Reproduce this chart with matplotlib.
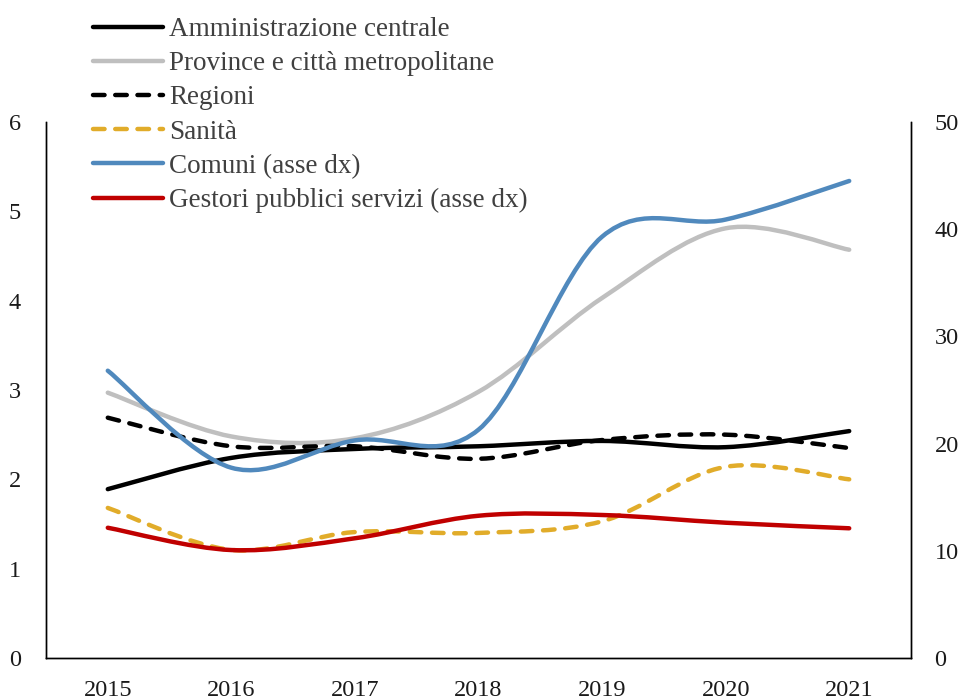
import matplotlib
matplotlib.use("Agg")
import matplotlib.pyplot as plt
from matplotlib.path import Path
from matplotlib.patches import PathPatch
from matplotlib.lines import Line2D
import numpy as np

years = ["2015", "2016", "2017", "2018", "2019", "2020", "2021"]
amm_centrale = [1.89, 2.24, 2.34, 2.37, 2.43, 2.36, 2.54]
province = [2.97, 2.48, 2.46, 2.98, 4.03, 4.81, 4.57]
regioni = [2.69, 2.37, 2.37, 2.23, 2.44, 2.50, 2.35]
sanita = [1.68, 1.21, 1.41, 1.40, 1.53, 2.14, 2.00]
comuni = [26.8, 17.75, 20.3, 21.3, 39.3, 40.9, 44.5]
gestori = [12.15, 10.07, 11.17, 13.27, 13.34, 12.62, 12.1]

labels = ["Amministrazione centrale", "Province e città metropolitane", "Regioni",
          "Sanità", "Comuni (asse dx)", "Gestori pubblici servizi (asse dx)"]

plt.rcParams['font.family'] = ['Liberation Serif', 'DejaVu Serif']

fig = plt.figure(figsize=(9.63, 7.0), dpi=100)
ax = fig.add_axes([46/963, 42/700, 865/963, 536/700])
ax2 = ax.twinx()

def smooth_path(x, y):
    x = np.asarray(x, float); y = np.asarray(y, float)
    n = len(x)
    verts = [(x[0], y[0])]
    codes = [Path.MOVETO]
    for i in range(n - 1):
        p0 = np.array([x[max(i-1, 0)], y[max(i-1, 0)]])
        p1 = np.array([x[i], y[i]])
        p2 = np.array([x[i+1], y[i+1]])
        p3 = np.array([x[min(i+2, n-1)], y[min(i+2, n-1)]])
        c1 = p1 + (p2 - p0) / 6.0
        c2 = p2 - (p3 - p1) / 6.0
        verts += [tuple(c1), tuple(c2), tuple(p2)]
        codes += [Path.CURVE4] * 3
    return Path(verts, codes)

xs = np.arange(len(years))
lw = 3.2
series = [
    (ax, amm_centrale, "#000000", "solid"),
    (ax, province, "#BFBFBF", "solid"),
    (ax, regioni, "#000000", "dashed"),
    (ax, sanita, "#E1AC2A", "dashed"),
    (ax2, comuni, "#5089BD", "solid"),
    (ax2, gestori, "#C00000", "solid"),
]
dash = (0, (2.6, 2.4))
handles = []
for a, vals, col, ls in series:
    lsx = dash if ls == "dashed" else "solid"
    patch = PathPatch(smooth_path(xs, vals), facecolor="none", edgecolor=col,
                      lw=lw, linestyle=lsx, capstyle="round", joinstyle="round")
    a.add_patch(patch)
    h = Line2D([0], [1], color=col, lw=lw, linestyle=lsx,
               solid_capstyle="round", dash_capstyle="round")
    handles.append(h)

ax.set_xlim(-0.5, len(years) - 0.5)
ax.set_ylim(0, 6)
ax2.set_ylim(0, 50)
ax.set_xticks(xs)
ax.set_xticklabels(years)
ax.set_yticks(range(0, 7))
ax2.set_yticks(range(0, 51, 10))

tc = "#1a1a1a"
for a in (ax, ax2):
    a.spines['top'].set_visible(False)
    for s in a.spines.values():
        s.set_linewidth(1.0)
        s.set_color("#000000")
    a.tick_params(length=0, labelsize=17.5, colors=tc)
ax.tick_params(axis='y', pad=18)
ax2.tick_params(axis='y', pad=17)
ax.tick_params(axis='x', pad=16)

leg = fig.legend(handles, labels, loc="upper left",
                 bbox_to_anchor=(93/963, 1 - 17/700), frameon=False,
                 fontsize=19.5, handlelength=2.6, handletextpad=0.2,
                 labelspacing=0.34, borderaxespad=0, borderpad=0)
for t in leg.get_texts():
    t.set_color("#404040")

fig.savefig("out.png", dpi=100)
